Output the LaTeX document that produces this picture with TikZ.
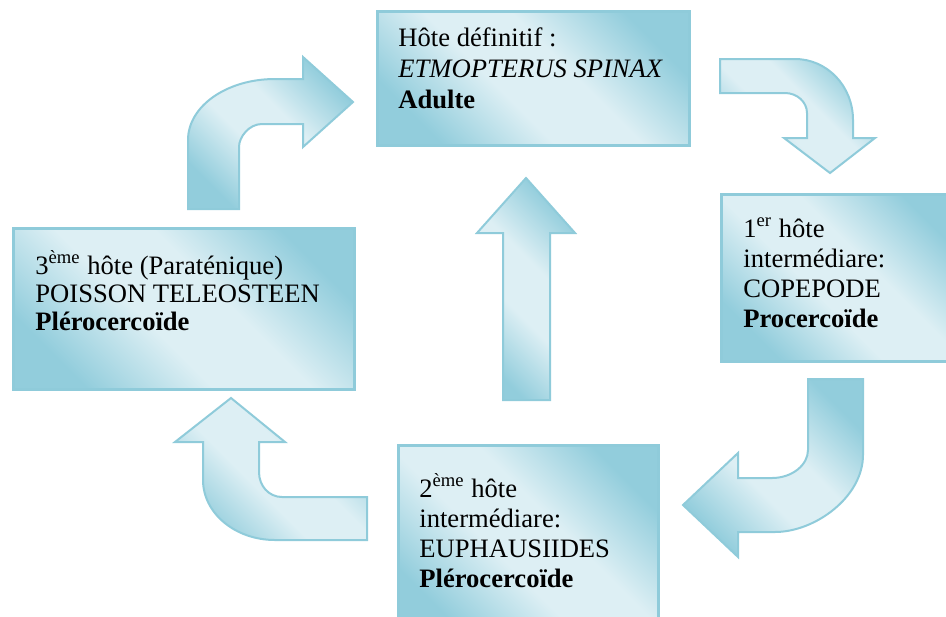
\documentclass[tikz,border=0pt]{standalone}
\usepackage{fontspec}
\setmainfont{Liberation Serif}
\definecolor{aquadark}{HTML}{92CDDC}
\definecolor{aqualight}{HTML}{DDEFF4}
\definecolor{aquaedge}{HTML}{8FCBDA}
\pgfdeclareverticalshading{aquaband}{100bp}{color(0bp)=(aquadark); color(25bp)=(aquadark);
  color(43bp)=(aqualight); color(57bp)=(aqualight); color(75bp)=(aquadark); color(100bp)=(aquadark)}

\begin{document}
\begin{tikzpicture}[x=0.5pt,y=-0.5pt,font=\fontsize{13.3}{15}\selectfont,
  aquashade/.style={shading=aquaband,shading angle=-45},
  hostbox/.style={aquashade,draw=aquaedge,line width=1.3pt,rectangle,anchor=north west,inner sep=0pt},
  hosttext/.style={align=left,anchor=base west,inner sep=0pt}]
  \tikzset{blockarrow/.style={aquashade,draw=aquaedge,line width=1pt,line join=miter}}
  \useasboundingbox (0,0) rectangle (946,616);
  \node[hostbox,minimum width=156pt,minimum height=67pt]   (def)   at (376,10)  {};
  \node[hostbox,minimum width=120pt,minimum height=83.5pt] (cope)  at (720,193) {};
  \node[hostbox,minimum width=130pt,minimum height=95pt]   (euph)  at (397,444) {};
  \node[hostbox,minimum width=170.5pt,minimum height=80.5pt] (third) at (12,227) {};
  \node[hosttext,font=\fontsize{13.3}{15.5}\selectfont] (def-txt) at (398,108)
    {Hôte définitif :\\ \textit{ETMOPTERUS SPINAX}\\ \textbf{Adulte}};
  \node[hosttext] (cope-txt)  at (743,327) {1\textsuperscript{er} hôte\\ intermédiare:\\ COPEPODE\\ \textbf{Procercoïde}};
  \node[hosttext] (euph-txt)  at (419,587) {2\textsuperscript{ème} hôte\\ intermédiare:\\ EUPHAUSIIDES\\ \textbf{Plérocercoïde}};
  \node[hosttext,font=\fontsize{13.3}{14}\selectfont] (third-txt) at (35,330)
    {3\textsuperscript{ème} hôte (Paraténique)\\ POISSON TELEOSTEEN\\ \textbf{Plérocercoïde}};
  \path[blockarrow] (188,209) -- (188,140) .. controls (188,106) and (227,79) .. (275,79) -- (303,79) -- (303,57)
    -- (353,102) -- (303,147) -- (303,124) -- (262,124) .. controls (249,124) and (239,137) .. (239,147)
    -- (239,209) -- cycle;
  \path[blockarrow] (720,59) -- (795,59) .. controls (827,59) and (853,86) .. (853,120) -- (853,138) -- (875,138)
    -- (830,173) -- (784,138) -- (807,138) -- (807,113) .. controls (807,102) and (797,93) .. (785,93)
    -- (720,93) -- cycle;
  \path[blockarrow] (808,379) -- (863,379) -- (863,455) .. controls (863,497) and (815,532) .. (775,532) -- (738,532)
    -- (738,557) -- (683,505) -- (738,453) -- (738,478) -- (772,478) .. controls (792,478) and (808,465) .. (808,450)
    -- cycle;
  \path[blockarrow] (367,497) -- (282,497) .. controls (269,497) and (259,486) .. (259,472) -- (259,442) -- (285,442)
    -- (231,398) -- (175,442) -- (203,442) -- (203,480) .. controls (203,513) and (235,540) .. (275,540)
    -- (367,540) -- cycle;
  \path[blockarrow] (503,400) -- (503,233) -- (477,233) -- (526,178) -- (575,233) -- (550,233) -- (550,400) -- cycle;
\end{tikzpicture}
\end{document}
